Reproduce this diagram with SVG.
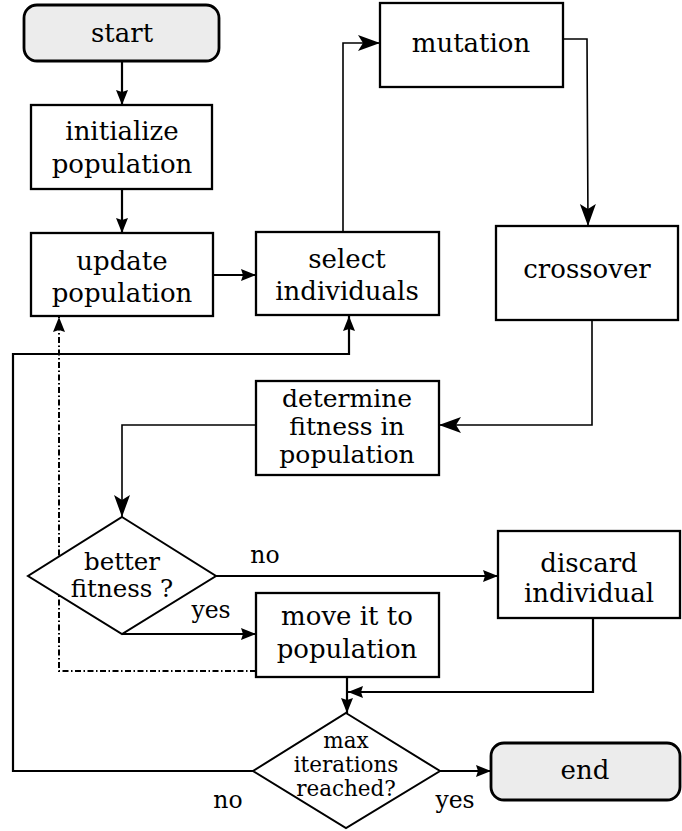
<svg xmlns="http://www.w3.org/2000/svg" width="682" height="831" viewBox="0 0 682 831">
  <style>
    .box { fill: #ffffff; stroke: #000; stroke-width: 2.3; }
    .term { fill: #ececec; stroke: #000; stroke-width: 2.8; }
    .dia { fill: #ffffff; stroke: #000; stroke-width: 2; stroke-linejoin: miter; }
    text { font-family: "DejaVu Serif", "Liberation Serif", serif; font-size: 26px; fill: #000; text-anchor: middle; }
    .t3 { font-size: 25px; }
    .d1 { font-size: 24.5px; }
    .sm { font-size: 21.5px; }
    .lbl { font-size: 23.5px; }
    .c { fill: none; stroke: #000; stroke-width: 2.2; }
    .thin { fill: none; stroke: #000; stroke-width: 1.6; }
    .dd { fill: none; stroke: #000; stroke-width: 2; stroke-dasharray: 6 2.5 1.5 2.5; }
  </style>
  <defs>
    <marker id="sm" markerUnits="userSpaceOnUse" markerWidth="16" markerHeight="13" refX="15" refY="6" orient="auto">
      <path d="M0,0 L15,6 L0,12 L2,6 z" fill="#000"/>
    </marker>
    <marker id="lg" markerUnits="userSpaceOnUse" markerWidth="23" markerHeight="17" refX="22" refY="8" orient="auto">
      <path d="M0,0 L22,8 L0,16 L5,8 z" fill="#000"/>
    </marker>
  </defs>

  <!-- connectors -->
  <g id="connectors">
    <path class="c" d="M122,62 V105" marker-end="url(#sm)"/>
    <path class="c" d="M122,189 V233" marker-end="url(#sm)"/>
    <path class="c" d="M213,275 H256" marker-end="url(#sm)"/>
    <path class="thin" d="M343,232 V43 H380" marker-end="url(#lg)"/>
    <path class="thin" d="M563,39 H587 L588,226" marker-end="url(#lg)"/>
    <path class="thin" d="M592,320 V425 H439" marker-end="url(#lg)"/>
    <path class="thin" d="M256,425 H122 V517" marker-end="url(#lg)"/>
    <path class="c" d="M215,576 H498" marker-end="url(#sm)"/>
    <path class="c" d="M122,634 H256" marker-end="url(#sm)"/>
    <path class="c" d="M347,677 V713" marker-end="url(#sm)"/>
    <path class="c" d="M593,618 V692 H348" marker-end="url(#sm)"/>
    <path class="c" d="M440,771 H491" marker-end="url(#sm)"/>
    <path class="c" d="M253,771 H13 V354 H349 V316" marker-end="url(#sm)"/>
    <path class="dd" d="M256,671 H59 V317" marker-end="url(#sm)"/>
    <text class="lbl" x="265" y="563">no</text>
    <text class="lbl" x="211" y="618">yes</text>
    <text class="lbl" x="228" y="808">no</text>
    <text class="lbl" x="455" y="808">yes</text>
  </g>

  <g id="start">
    <rect class="term" x="24" y="5" width="195" height="56" rx="13"/>
    <text x="122" y="42">start</text>
  </g>
  <g id="initialize">
    <rect class="box" x="31" y="105" width="181" height="84"/>
    <text x="122" y="140">initialize</text>
    <text x="122" y="173">population</text>
  </g>
  <g id="update">
    <rect class="box" x="31" y="233" width="182" height="83"/>
    <text x="122" y="270">update</text>
    <text x="122" y="302">population</text>
  </g>
  <g id="select">
    <rect class="box" x="256" y="232" width="183" height="83"/>
    <text x="347" y="268">select</text>
    <text x="347" y="300">individuals</text>
  </g>
  <g id="mutation">
    <rect class="box" x="380" y="3" width="183" height="84"/>
    <text x="471" y="52">mutation</text>
  </g>
  <g id="crossover">
    <rect class="box" x="496" y="226" width="182" height="94"/>
    <text x="587" y="278">crossover</text>
  </g>
  <g id="determine">
    <rect class="box" x="256" y="381" width="183" height="94"/>
    <text class="t3" x="347" y="407">determine</text>
    <text class="t3" x="347" y="435">fitness in</text>
    <text class="t3" x="347" y="463">population</text>
  </g>
  <g id="better-fitness">
    <polygon class="dia" points="122,517 216,576 122,634 28,576"/>
    <text class="d1" x="122" y="570">better</text>
    <text class="d1" x="122" y="597">fitness ?</text>
  </g>
  <g id="discard">
    <rect class="box" x="498" y="531" width="182" height="87"/>
    <text x="589" y="572">discard</text>
    <text x="589" y="602">individual</text>
  </g>
  <g id="move">
    <rect class="box" x="256" y="593" width="183" height="84"/>
    <text x="347" y="625">move it to</text>
    <text x="347" y="658">population</text>
  </g>
  <g id="max-iterations">
    <polygon class="dia" points="346,713 440,771 346,828 253,771"/>
    <text class="sm" x="346" y="748">max</text>
    <text class="sm" x="346" y="772">iterations</text>
    <text class="sm" x="346" y="796">reached?</text>
  </g>
  <g id="end">
    <rect class="term" x="491" y="743" width="189" height="57" rx="13"/>
    <text x="585" y="779">end</text>
  </g>
</svg>
